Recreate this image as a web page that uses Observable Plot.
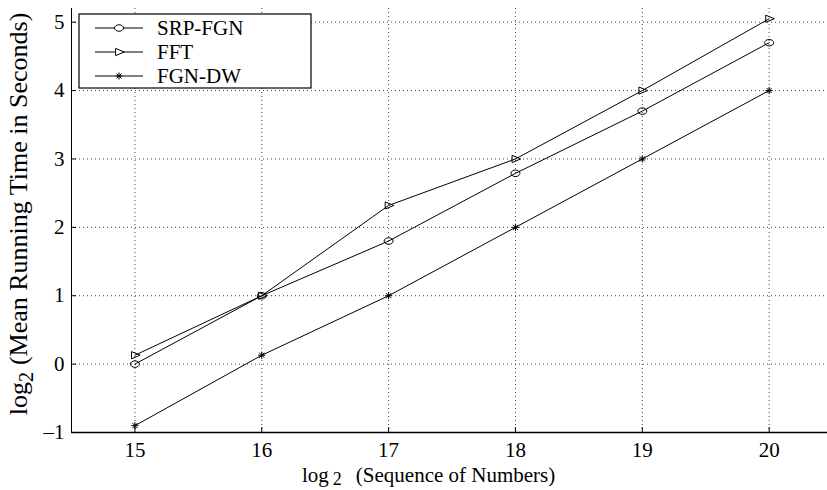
<!DOCTYPE html>
<html><head><meta charset="utf-8">
<script src="https://cdn.jsdelivr.net/npm/d3@7"></script>
<script src="https://cdn.jsdelivr.net/npm/@observablehq/plot@0.6"></script>
<style>
body{margin:0;background:#fff;}
#chart{position:relative;width:827px;height:490px;overflow:hidden;}
</style>
</head><body><div id="chart"></div>
<script>
// ---- data ----
const xValues = [15, 16, 17, 18, 19, 20];
const srpFgn = [0, 1, 1.8, 2.79, 3.7, 4.7];
const fft = [0.13, 1, 2.32, 3.0, 4.0, 5.05];
const fgnDw = [-0.9, 0.13, 1, 2, 3, 4];
const seriesNames = ["SRP-FGN", "FFT", "FGN-DW"];
const xTicks = [15, 16, 17, 18, 19, 20];
const yTicks = [-1, 0, 1, 2, 3, 4, 5];
const xTitle = ["log", "2", "(Sequence of Numbers)"];
const yTitle = ["log", "2", "(Mean Running Time in Seconds)"];

const rows = [];
[srpFgn, fft, fgnDw].forEach((vals, i) =>
  vals.forEach((v, j) => rows.push({series: seriesNames[i], x: xValues[j], y: v})));

// ---- custom marker symbols ----
const ellipseSym = {draw(ctx, size) {
  const r = Math.sqrt(size / Math.PI);
  const rx = r * 1.25, ry = r * 0.9, k = 0.5523;
  ctx.moveTo(rx, 0);
  ctx.bezierCurveTo(rx, ry * k, rx * k, ry, 0, ry);
  ctx.bezierCurveTo(-rx * k, ry, -rx, ry * k, -rx, 0);
  ctx.bezierCurveTo(-rx, -ry * k, -rx * k, -ry, 0, -ry);
  ctx.bezierCurveTo(rx * k, -ry, rx, -ry * k, rx, 0);
  ctx.closePath();
}};
const triRightSym = {draw(ctx, size) {
  const r = Math.sqrt(size / Math.PI);
  ctx.moveTo(-r * 0.95, -r);
  ctx.lineTo(r * 1.45, 0);
  ctx.lineTo(-r * 0.95, r);
  ctx.closePath();
}};
const starSym = {draw(ctx, size) {
  const r = Math.sqrt(size / Math.PI);
  for (let a = 0; a < 4; a++) {
    const t = a * Math.PI / 4;
    ctx.moveTo(-r * Math.cos(t), -r * Math.sin(t));
    ctx.lineTo(r * Math.cos(t), r * Math.sin(t));
  }
}};
const symbolFor = {"SRP-FGN": ellipseSym, "FFT": triRightSym, "FGN-DW": starSym};

const serif = "'Liberation Serif', 'Times New Roman', serif";
const W = 827, H = 490;
const plot = Plot.plot({
  width: W, height: H,
  marginLeft: 71, marginRight: 0, marginTop: 8, marginBottom: 58,
  style: {fontFamily: serif, fontSize: "21px", color: "#000", background: "#fff"},
  x: {domain: [14.5, 20.46]},
  y: {domain: [-1, 5.2]},
  symbol: {domain: seriesNames, range: seriesNames.map(s => symbolFor[s])},
  marks: [
    Plot.gridX(xTicks, {stroke: "#000", strokeOpacity: 0.75, strokeDasharray: "1,3"}),
    Plot.gridY(yTicks, {stroke: "#000", strokeOpacity: 0.75, strokeDasharray: "1,3"}),
    Plot.ruleY([-1], {stroke: "#000", strokeWidth: 1.6}),
    Plot.ruleX([14.5], {stroke: "#000", strokeWidth: 1}),
    Plot.axisX(xTicks, {tickSize: -5, tickPadding: 15, label: null, tickFormat: d => String(d), stroke: "#000"}),
    Plot.axisY(yTicks, {tickSize: -5, tickPadding: 12, label: null, tickFormat: d => d < 0 ? "\u2013" + Math.abs(d) : String(d), stroke: "#000"}),
    Plot.line(rows, {x: "x", y: "y", z: "series", stroke: "#000", strokeWidth: 1}),
    Plot.dot(rows, {x: "x", y: "y", symbol: "series", r: 3.6, stroke: "#000", fill: "none", strokeWidth: 1})
  ]
});
document.getElementById("chart").appendChild(plot);

// ---- titles and legend ----
const svg = d3.select(plot);

const xt = svg.append("text").attr("x", 302).attr("y", 482)
  .style("font-family", serif).style("font-size", "21px").style("text-anchor", "start").attr("fill", "#000");
xt.append("tspan").text(xTitle[0]);
xt.append("tspan").attr("dx", 4).attr("dy", 3).style("font-size", "18px").text(xTitle[1]);
xt.append("tspan").attr("dx", 14).attr("dy", -3).text(xTitle[2]);

const yt = svg.append("text").attr("transform", "translate(27,214) rotate(-90)")
  .style("text-anchor", "middle").style("font-family", serif).style("font-size", "26px").attr("fill", "#000");
yt.append("tspan").text(yTitle[0]);
yt.append("tspan").attr("dy", 6).style("font-size", "20px").text(yTitle[1]);
yt.append("tspan").attr("dx", 7).attr("dy", -6).text(yTitle[2]);

const lg = svg.append("g");
lg.append("rect").attr("x", 79).attr("y", 14).attr("width", 232).attr("height", 74)
  .attr("fill", "#fff").attr("stroke", "#000").attr("stroke-width", 1.2);
const legendY = [28, 52, 76];
seriesNames.forEach((s, i) => {
  const y = legendY[i];
  lg.append("line").attr("x1", 95).attr("x2", 143).attr("y1", y).attr("y2", y).attr("stroke", "#000");
  lg.append("path").attr("transform", `translate(119,${y})`)
    .attr("d", d3.symbol(symbolFor[s], Math.PI * 3.6 * 3.6)())
    .attr("fill", "#fff").attr("stroke", "#000");
  lg.append("text").attr("x", 157).attr("y", y + 7)
    .style("font-family", serif).style("font-size", "21px").style("text-anchor", "start")
    .attr("fill", "#000").text(s);
});
</script>
</body></html>
